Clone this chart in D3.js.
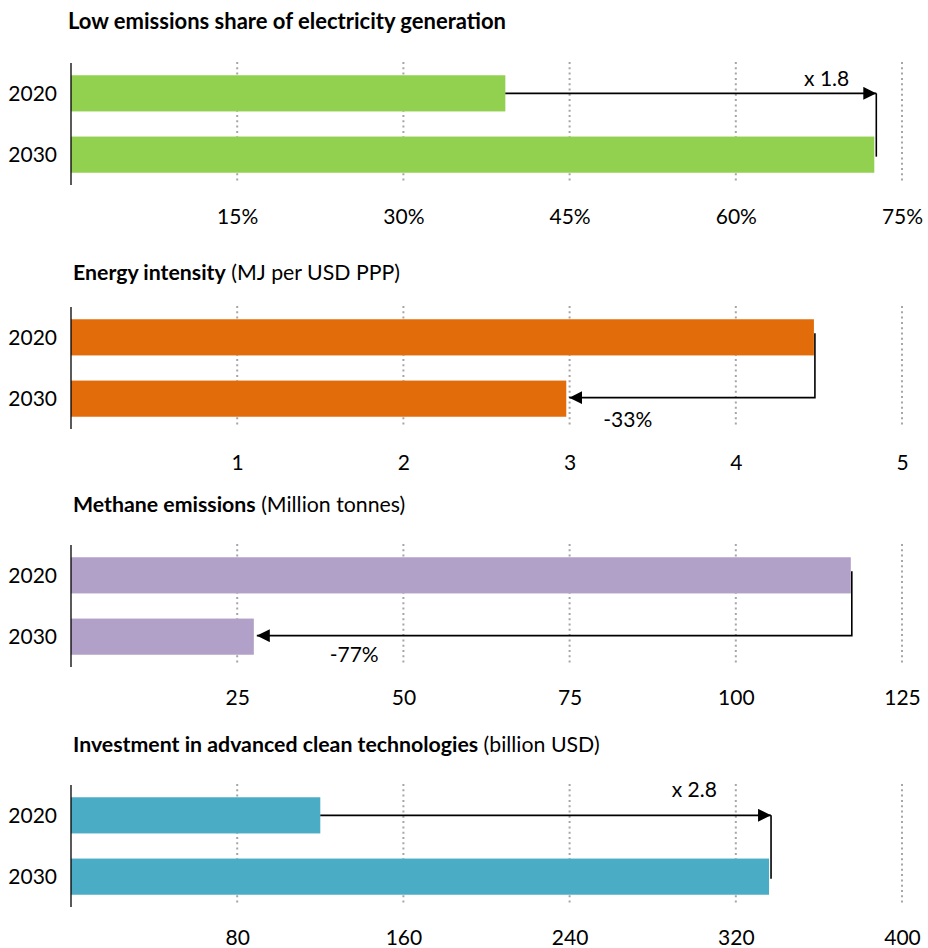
<!DOCTYPE html>
<html>
<head>
<meta charset="utf-8">
<script src="https://cdn.jsdelivr.net/npm/d3@7"></script>
<style>
  html, body { margin: 0; padding: 0; background: #fff; }
  svg { display: block; font-family: Lato, "Open Sans", sans-serif; }
</style>
</head>
<body>
<svg id="chart" width="928" height="948"></svg>
<script>
// ---- data ----
const years = ["2020", "2030"];

const titlesBold = [
  "Low emissions share of electricity generation",
  "Energy intensity",
  "Methane emissions",
  "Investment in advanced clean technologies"
];
const titlesUnit = ["", "(MJ per USD PPP)", "(Million tonnes)", "(billion USD)"];

const lowEmissionsShare = [39.2, 72.5];   // %
const energyIntensity   = [4.47, 2.98];   // MJ per USD PPP
const methaneEmissions  = [117.3, 27.5];  // Mt
const cleanInvestment   = [120, 336];     // billion USD

const shareTicks      = [15, 30, 45, 60, 75];
const intensityTicks  = [1, 2, 3, 4, 5];
const methaneTicks    = [25, 50, 75, 100, 125];
const investmentTicks = [80, 160, 240, 320, 400];

const changeLabels = ["x 1.8", "-33%", "-77%", "x 2.8"];

const barColors = ["#92d050", "#e36c0a", "#b1a0c7", "#4bacc6"];

// ---- layout ----
const x0 = 71, x1 = 902;
const plotH = 122;

const panels = [
  { values: lowEmissionsShare, ticks: shareTicks, fmt: d => d + "%", max: 75,
    top: 63, titleY: 29, titleSize: 22, tickY: 223, labelAt: 68.2, labelY: 86 },
  { values: energyIntensity, ticks: intensityTicks, fmt: d => d, max: 5,
    top: 307, titleY: 280, titleSize: 21.3, tickY: 469, labelAt: 3.35, labelY: 427 },
  { values: methaneEmissions, ticks: methaneTicks, fmt: d => d, max: 125,
    top: 545, titleY: 512, titleSize: 21.3, tickY: 704, labelAt: 42.6, labelY: 662 },
  { values: cleanInvestment, ticks: investmentTicks, fmt: d => d, max: 400,
    top: 785, titleY: 752, titleSize: 21.3, tickY: 944, labelAt: 300, labelY: 797 }
];

const svg = d3.select("#chart");

svg.append("defs").append("marker")
  .attr("id", "arrowhead")
  .attr("viewBox", "0 0 13 13")
  .attr("refX", 13).attr("refY", 6.5)
  .attr("markerWidth", 13).attr("markerHeight", 13)
  .attr("markerUnits", "userSpaceOnUse")
  .attr("orient", "auto")
  .append("path")
  .attr("d", "M0,0 L13,6.5 L0,13 Z")
  .attr("fill", "#000");

panels.forEach((p, i) => {
  const g = svg.append("g");

  const x = d3.scaleLinear().domain([0, p.max]).range([x0, x1]);
  const y = d3.scaleBand().domain(years)
    .range([p.top, p.top + plotH])
    .paddingInner(0.41).paddingOuter(0.2);

  // title
  const t = g.append("text")
    .attr("x", i === 0 ? 68 : 73)
    .attr("y", p.titleY)
    .attr("font-size", p.titleSize)
    .attr("fill", "#000");
  t.append("tspan").attr("font-weight", "bold").text(titlesBold[i]);
  if (titlesUnit[i]) t.append("tspan").attr("font-weight", "normal").text(" " + titlesUnit[i]);

  // dotted gridlines
  g.append("g").selectAll("line").data(p.ticks).join("line")
    .attr("x1", d => x(d)).attr("x2", d => x(d))
    .attr("y1", p.top - 1).attr("y2", p.top + plotH - 2)
    .attr("stroke", "#a6a6a6")
    .attr("stroke-width", 2)
    .attr("stroke-dasharray", "2,3.3");

  // bars
  g.append("g").selectAll("rect").data(p.values).join("rect")
    .attr("x", x(0))
    .attr("y", (d, j) => y(years[j]))
    .attr("width", d => x(d) - x(0))
    .attr("height", y.bandwidth())
    .attr("fill", barColors[i]);

  // left axis line
  g.append("line")
    .attr("x1", x0).attr("x2", x0)
    .attr("y1", p.top).attr("y2", p.top + plotH)
    .attr("stroke", "#000").attr("stroke-width", 1.3);

  // year labels
  g.append("g").selectAll("text").data(years).join("text")
    .attr("x", 57)
    .attr("y", d => y(d) + y.bandwidth() / 2)
    .attr("dy", "0.35em")
    .attr("text-anchor", "end")
    .attr("font-size", 21)
    .attr("fill", "#000")
    .text(d => d);

  // value axis labels
  const axis = d3.axisBottom(x).tickValues(p.ticks).tickSize(0).tickFormat(p.fmt);
  const ag = g.append("g").attr("transform", `translate(0,${p.tickY - 17})`).call(axis);
  ag.select(".domain").remove();
  ag.selectAll("text").attr("font-size", 21).attr("font-family", "Lato, sans-serif").attr("fill", "#000");

  // change arrow
  const yA = y(years[0]) + y.bandwidth() / 2;
  const yB = y(years[1]) + y.bandwidth() / 2;
  const vA = p.values[0], vB = p.values[1];
  const arrowG = g.append("g").attr("fill", "none").attr("stroke", "#000").attr("stroke-width", 1.6);
  if (vB > vA) {
    // growth: across from the 2020 bar, then down to the 2030 bar end
    const xe = x(vB) + 2;
    arrowG.append("line")
      .attr("x1", x(vA)).attr("y1", yA).attr("x2", xe).attr("y2", yA)
      .attr("marker-end", "url(#arrowhead)");
    arrowG.append("line")
      .attr("x1", xe).attr("y1", yA).attr("x2", xe).attr("y2", yB + 2);
  } else {
    // decline: down from the 2020 bar end, then back to the 2030 bar
    const xs = x(vA) + 1;
    arrowG.append("path")
      .attr("d", `M${xs},${yA - 4} L${xs},${yB - 1} L${x(vB) + 3},${yB - 1}`)
      .attr("marker-end", "url(#arrowhead)");
  }

  g.append("text")
    .attr("x", x(p.labelAt))
    .attr("y", p.labelY)
    .attr("text-anchor", "middle")
    .attr("font-size", 21)
    .attr("fill", "#000")
    .text(changeLabels[i]);
});
</script>
</body>
</html>
